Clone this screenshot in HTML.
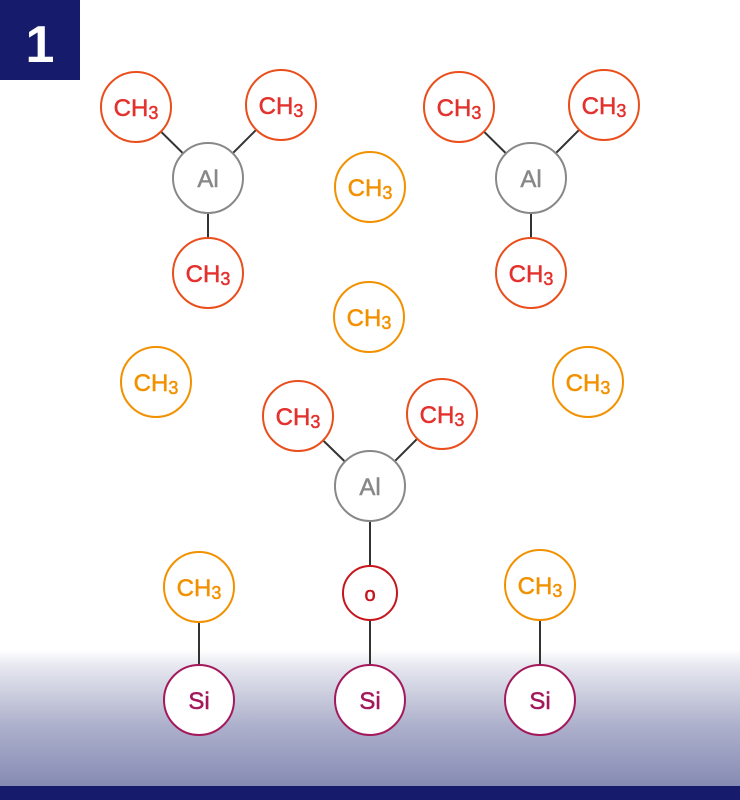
<!DOCTYPE html>
<html><head><style>body{margin:0;background:#fff}svg{display:block}</style></head><body>
<svg width="740" height="800" xmlns="http://www.w3.org/2000/svg" font-family="Liberation Sans, sans-serif">
<defs><linearGradient id="g" x1="0" y1="0" x2="0" y2="1"><stop offset="0" stop-color="#fff"/><stop offset="0.12" stop-color="#e6e7ef"/><stop offset="0.55" stop-color="#aeb1cc"/><stop offset="1" stop-color="#868bb3"/></linearGradient></defs>
<rect x="0" y="650" width="740" height="136" fill="url(#g)"/>
<rect x="0" y="786" width="740" height="14" fill="#161c6b"/>
<rect x="0" y="0" width="80" height="80" fill="#161c6b"/>
<text x="40" y="62" font-size="52" font-weight="bold" fill="#fff" text-anchor="middle">1</text>
<g stroke="#333" stroke-width="2">
<line x1="208" y1="178" x2="136" y2="107"/><line x1="208" y1="178" x2="281" y2="105"/><line x1="208" y1="178" x2="208" y2="273"/>
<line x1="531" y1="178" x2="459" y2="107"/><line x1="531" y1="178" x2="604" y2="105"/><line x1="531" y1="178" x2="531" y2="273"/>
<line x1="370" y1="486" x2="298" y2="416"/><line x1="370" y1="486" x2="442" y2="414"/><line x1="370" y1="486" x2="370" y2="700"/>
<line x1="199" y1="587" x2="199" y2="700"/><line x1="540" y1="585" x2="540" y2="700"/>
</g>
<g stroke-width="2" fill="#fff">
<g stroke="#e94e1b"><circle cx="136" cy="107" r="35"/><circle cx="281" cy="105" r="35"/><circle cx="208" cy="273" r="35"/><circle cx="459" cy="107" r="35"/><circle cx="604" cy="105" r="35"/><circle cx="531" cy="273" r="35"/><circle cx="298" cy="416" r="35"/><circle cx="442" cy="414" r="35"/></g>
<g stroke="#f29100"><circle cx="370" cy="187" r="35"/><circle cx="369" cy="317" r="35"/><circle cx="156" cy="382" r="35"/><circle cx="588" cy="382" r="35"/><circle cx="199" cy="587" r="35"/><circle cx="540" cy="585" r="35"/></g>
<g stroke="#888"><circle cx="208" cy="178" r="35"/><circle cx="531" cy="178" r="35"/><circle cx="370" cy="486" r="35"/></g>
<circle cx="370" cy="593" r="27" stroke="#c4161c"/>
<g stroke="#a3195b"><circle cx="199" cy="700" r="35"/><circle cx="370" cy="700" r="35"/><circle cx="540" cy="700" r="35"/></g>
</g>
<g font-size="24" text-anchor="middle" stroke-width="0.5">
<g fill="#e3312d" stroke="#e3312d"><text x="136" y="116">CH<tspan font-size="18" dy="3">3</tspan></text><text x="281" y="114">CH<tspan font-size="18" dy="3">3</tspan></text><text x="208" y="282">CH<tspan font-size="18" dy="3">3</tspan></text><text x="459" y="116">CH<tspan font-size="18" dy="3">3</tspan></text><text x="604" y="114">CH<tspan font-size="18" dy="3">3</tspan></text><text x="531" y="282">CH<tspan font-size="18" dy="3">3</tspan></text><text x="298" y="425">CH<tspan font-size="18" dy="3">3</tspan></text><text x="442" y="423">CH<tspan font-size="18" dy="3">3</tspan></text></g>
<g fill="#f29100" stroke="#f29100"><text x="370" y="196">CH<tspan font-size="18" dy="3">3</tspan></text><text x="369" y="326">CH<tspan font-size="18" dy="3">3</tspan></text><text x="156" y="391">CH<tspan font-size="18" dy="3">3</tspan></text><text x="588" y="391">CH<tspan font-size="18" dy="3">3</tspan></text><text x="199" y="596">CH<tspan font-size="18" dy="3">3</tspan></text><text x="540" y="594">CH<tspan font-size="18" dy="3">3</tspan></text></g>
<g fill="#888" stroke="#888"><text x="208" y="187">Al</text><text x="531" y="187">Al</text><text x="370" y="495">Al</text></g>
<text x="370" y="601" fill="#c4161c" stroke="#c4161c" font-size="20">o</text>
<g fill="#a3195b" stroke="#a3195b"><text x="199" y="709">Si</text><text x="370" y="709">Si</text><text x="540" y="709">Si</text></g>
</g>
</svg>
</body></html>
